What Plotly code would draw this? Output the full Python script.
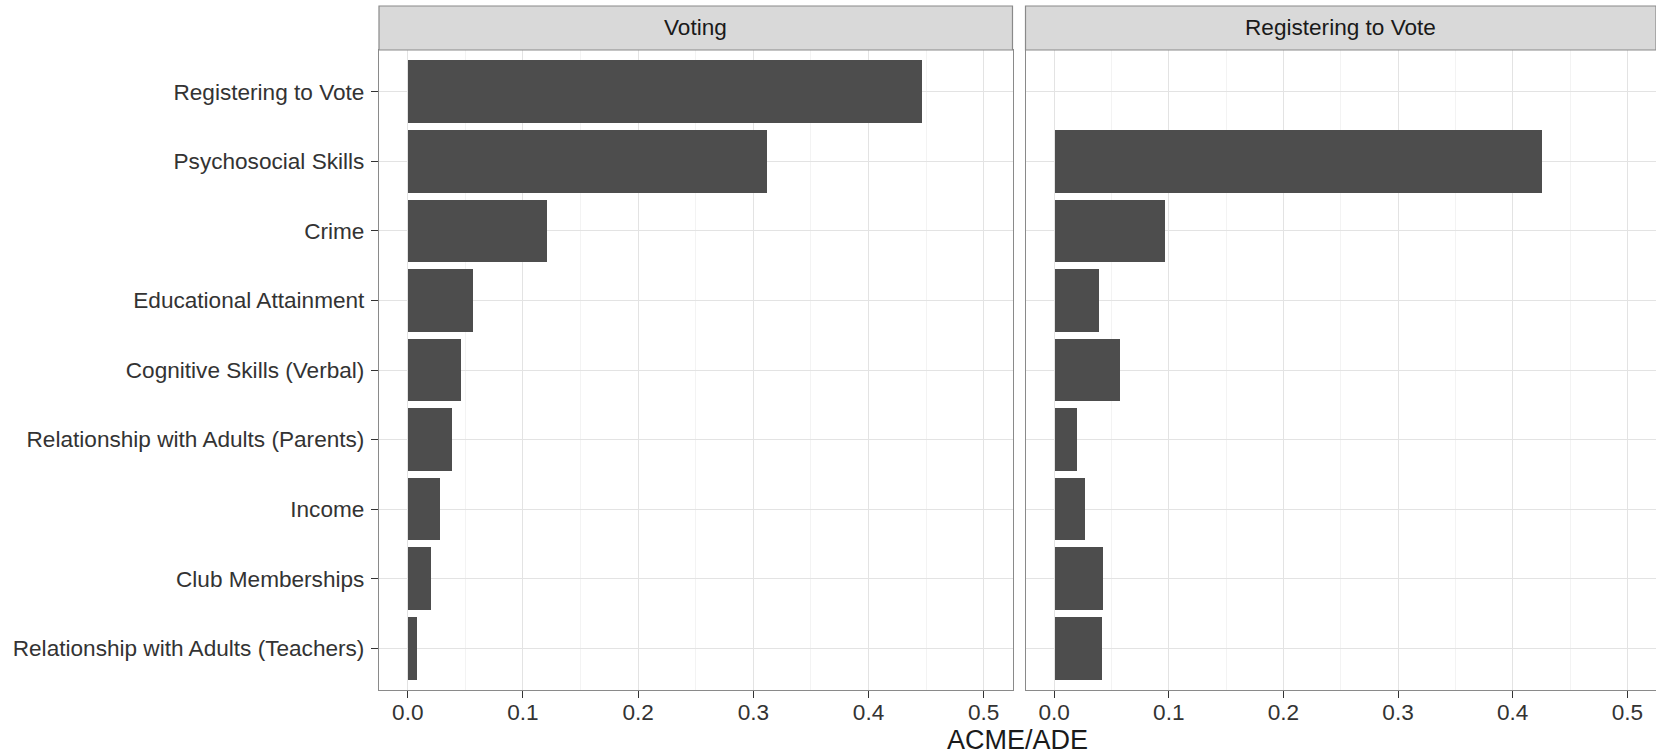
import plotly.graph_objects as go

categories = [
    "Registering to Vote",
    "Psychosocial Skills",
    "Crime",
    "Educational Attainment",
    "Cognitive Skills (Verbal)",
    "Relationship with Adults (Parents)",
    "Income",
    "Club Memberships",
    "Relationship with Adults (Teachers)",
]
voting_values = [0.446, 0.312, 0.121, 0.0565, 0.046, 0.0383, 0.0279, 0.0201, 0.008]
registering_values = [None, 0.425, 0.0966, 0.0383, 0.0566, 0.0191, 0.0261, 0.0426, 0.0409]
panel_titles = ["Voting", "Registering to Vote"]
x_tickvals = [0.0, 0.1, 0.2, 0.3, 0.4, 0.5]
x_ticktext = ["0.0", "0.1", "0.2", "0.3", "0.4", "0.5"]
x_title = "ACME/ADE"

BAR = "#4D4D4D"
BORDER = "#8A8A8A"
GRID = "#E3E3E3"
MINOR = "#F3F3F3"
FONT = "Liberation Sans, Arial, Helvetica, sans-serif"
FS = 22.6

W, H = 1656, 755
ML, MR, MT, MB = 379, 0, 50, 65
pw = W - ML - MR
ph = H - MT - MB
x1_dom = [0, (1012.5 - ML) / pw]
x2_dom = [(1025.5 - ML) / pw, 1]
strip_h = 44 / ph

fig = go.Figure()
fig.add_trace(go.Bar(y=categories, x=voting_values, orientation="h", width=0.9,
                     marker=dict(color=BAR, line=dict(width=0)), xaxis="x", yaxis="y",
                     showlegend=False))
fig.add_trace(go.Bar(y=categories, x=registering_values, orientation="h", width=0.9,
                     marker=dict(color=BAR, line=dict(width=0)), xaxis="x2", yaxis="y2",
                     showlegend=False))

xcommon = dict(range=[-0.025, 0.525], tickmode="array", tickvals=x_tickvals, ticktext=x_ticktext,
               showgrid=True, gridcolor=GRID, gridwidth=1.2,
               minor=dict(tickmode="array", tickvals=[0.05, 0.15, 0.25, 0.35, 0.45],
                          showgrid=True, gridcolor=MINOR, gridwidth=0.7, ticks=""),
               ticks="outside", ticklen=7, tickwidth=1.2, tickcolor="#333333",
               tickfont=dict(family=FONT, size=FS, color="#333333"), ticklabelstandoff=-5,
               showline=True, linecolor=BORDER, linewidth=1.2, mirror=True,
               zeroline=False, fixedrange=True)
ycommon = dict(type="category", categoryorder="array", categoryarray=categories,
               range=[8.6, -0.6], showgrid=True, gridcolor=GRID, gridwidth=1.2,
               showline=True, linecolor=BORDER, linewidth=1.2, mirror=True,
               zeroline=False, domain=[0, 1], fixedrange=True)

fig.update_layout(
    width=W, height=H,
    margin=dict(l=ML, r=MR, t=MT, b=MB),
    paper_bgcolor="white", plot_bgcolor="white",
    bargap=0, barmode="overlay",
    font=dict(family=FONT, color="#333333"),
    xaxis=dict(domain=x1_dom, anchor="y", **xcommon),
    xaxis2=dict(domain=x2_dom, anchor="y2", **xcommon),
    yaxis=dict(anchor="x", ticks="outside", ticklen=7, tickwidth=1.2, tickcolor="#333333",
               tickfont=dict(family=FONT, size=FS, color="#333333"), ticklabelstandoff=2,
               **ycommon),
    yaxis2=dict(anchor="x2", showticklabels=False, ticks="", **ycommon),
)

for i, title in enumerate(panel_titles):
    xr = "x domain" if i == 0 else "x2 domain"
    yr = "y domain" if i == 0 else "y2 domain"
    fig.add_shape(type="rect", xref=xr, yref=yr, x0=0, x1=1, y0=1, y1=1 + strip_h,
                  fillcolor="#D9D9D9", line=dict(color=BORDER, width=1.2), layer="above")
    fig.add_annotation(xref=xr, yref=yr, x=0.5, y=1 + strip_h / 2, text=title,
                       showarrow=False, xanchor="center", yanchor="middle",
                       font=dict(family=FONT, size=FS, color="#1A1A1A"))

bottom = MT + ph
fig.add_annotation(xref="paper", yref="paper", x=0.5, y=-(740 - bottom) / ph,
                   text=x_title, showarrow=False, xanchor="center", yanchor="middle",
                   font=dict(family=FONT, size=27, color="#1A1A1A"))

fig.write_html(
    "out.html",
    config={"displayModeBar": False},
    post_script=(
        "document.documentElement.style.margin='0';"
        "document.documentElement.style.overflow='hidden';"
        "document.body.style.margin='0';"
        "document.body.style.overflow='hidden';"
    ),
)
